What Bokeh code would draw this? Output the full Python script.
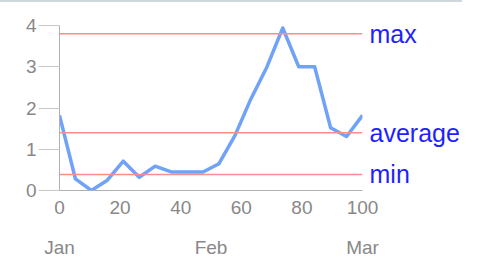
from bokeh.plotting import figure
from bokeh.models import LinearAxis, FixedTicker, Span, Range1d
from bokeh.embed import file_html
from bokeh.resources import INLINE

# data
x_vals = [0, 5.26, 10.53, 15.79, 21.05, 26.32, 31.58, 36.84, 42.11, 47.37,
          52.63, 57.89, 63.16, 68.42, 73.68, 78.95, 84.21, 89.47, 94.74, 100]
y_vals = [1.82, 0.28, 0.0, 0.25, 0.71, 0.32, 0.59, 0.45, 0.45, 0.45,
          0.65, 1.33, 2.22, 2.99, 3.94, 3.0, 3.0, 1.52, 1.31, 1.82]
ref_names = ["max", "average", "min"]
ref_values = [3.8, 1.4, 0.39]
x_ticks = [0, 20, 40, 60, 80, 100]
y_ticks = [0, 1, 2, 3, 4]
month_ticks = [0, 50, 100]
month_labels = ["Jan", "Feb", "Mar"]

FONT = "Liberation Sans"
GRAY = "#888888"

p = figure(width=462, height=257, output_backend="svg", toolbar_location=None,
           x_range=Range1d(0, 100), y_range=Range1d(0, 4),
           frame_width=303, frame_height=165,
           min_border_left=59, min_border_right=100, min_border_top=23, min_border_bottom=10,
           x_axis_location=None, y_axis_location=None)
p.styles = {"margin": "0", "border-top": "2px solid #cfd8dc"}
p.outline_line_color = None
p.grid.visible = False
p.background_fill_color = "white"
p.border_fill_color = "white"

yax = LinearAxis(ticker=FixedTicker(ticks=y_ticks))
yax.axis_line_color = "#b0b0b0"
yax.major_tick_line_color = "#c8c8c8"
yax.major_tick_in = 0
yax.major_tick_out = 21
yax.minor_tick_line_color = None
yax.major_label_standoff = 2
yax.major_label_text_font = FONT
yax.major_label_text_font_size = "19px"
yax.major_label_text_color = GRAY
p.add_layout(yax, "left")

ref_ax = LinearAxis(ticker=FixedTicker(ticks=ref_values),
                    major_label_overrides={v: n for v, n in zip(ref_values, ref_names)})
ref_ax.axis_line_color = None
ref_ax.major_tick_line_color = None
ref_ax.minor_tick_line_color = None
ref_ax.major_tick_in = 0
ref_ax.major_tick_out = 0
ref_ax.major_label_standoff = 7
ref_ax.major_label_text_font = FONT
ref_ax.major_label_text_font_size = "25px"
ref_ax.major_label_text_color = "#1f1fff"
p.add_layout(ref_ax, "right")

xax = LinearAxis(ticker=FixedTicker(ticks=x_ticks))
xax.axis_line_color = "#b0b0b0"
xax.major_tick_line_color = None
xax.major_tick_in = 0
xax.major_tick_out = 0
xax.minor_tick_line_color = None
xax.major_label_standoff = 10
xax.major_label_text_font = FONT
xax.major_label_text_font_size = "19px"
xax.major_label_text_color = GRAY
p.add_layout(xax, "below")

month_ax = LinearAxis(ticker=FixedTicker(ticks=month_ticks),
                      major_label_overrides={t: l for t, l in zip(month_ticks, month_labels)})
month_ax.axis_line_color = None
month_ax.major_tick_line_color = None
month_ax.minor_tick_line_color = None
month_ax.major_tick_in = 0
month_ax.major_tick_out = 0
month_ax.major_label_standoff = 20
month_ax.major_label_text_font = FONT
month_ax.major_label_text_font_size = "19px"
month_ax.major_label_text_color = GRAY
p.add_layout(month_ax, "below")

for v in ref_values:
    p.add_layout(Span(location=v, dimension="width", line_color="#ff8c8c", line_width=1.5))

p.line(x_vals, y_vals, line_color="#70a2f7", line_width=3.5, line_join="round")

open("out.html", "w").write(file_html(p, INLINE))
